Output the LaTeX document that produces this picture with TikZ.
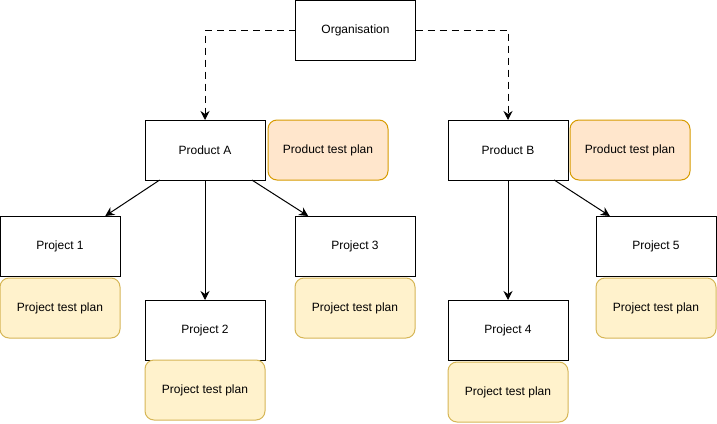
\documentclass[tikz,border=0pt]{standalone}
\usepackage{fontspec}
\setmainfont{Liberation Sans}
\usetikzlibrary{arrows.meta}
\definecolor{prodfill}{HTML}{FFE6CC}
\definecolor{proddraw}{HTML}{D79B00}
\definecolor{projfill}{HTML}{FFF2CC}
\definecolor{projdraw}{HTML}{D6B656}
\begin{document}
\begin{tikzpicture}[x=1pt, y=-1pt,
    font=\fontsize{12}{14}\selectfont,
    box/.style={shape=rectangle, draw=black, fill=white, line width=1pt, minimum width=120pt, minimum height=60pt, inner sep=0pt, outer sep=0pt},
    prodplan/.style={box, draw=proddraw, fill=prodfill, rounded corners=9pt},
    projplan/.style={box, draw=projdraw, fill=projfill, rounded corners=9pt},
    link/.style={line width=1pt, -{Stealth[length=9pt, width=9pt, inset=3pt]}},
    dashlink/.style={link, dash pattern=on 7pt off 5pt}]
  \useasboundingbox (0,0) rectangle (717,423);
     \path (355.5, 30) node [box] (org) {Organisation}
           (205, 150) node [box] (pa) {Product A}
           (328, 150) node [prodplan] (pa plan) {Product test plan}
           (508, 150) node [box] (pb) {Product B}
           (630, 150) node [prodplan] (pb plan) {Product test plan}
           ( 60, 246) node [box] (p1) {Project 1}
           ( 60, 308) node [projplan] (p1 plan) {Project test plan}
           (205, 330) node [box] (p2) {Project 2}
           (205, 390) node [projplan] (p2 plan) {Project test plan}
           (355, 246) node [box] (p3) {Project 3}
           (355, 308) node [projplan] (p3 plan) {Project test plan}
           (508, 330) node [box] (p4) {Project 4}
           (508, 392) node [projplan] (p4 plan) {Project test plan}
           (656, 246) node [box] (p5) {Project 5}
           (656, 308) node [projplan] (p5 plan) {Project test plan}
     ;
     \draw [dashlink] (org.west) -| (pa.north);
     \draw [dashlink] (org.east) -| (pb.north);
     \draw [link] (pa) -- (p1);
     \draw [link] (pa) -- (p2);
     \draw [link] (pa) -- (p3);
     \draw [link] (pb) -- (p4);
     \draw [link] (pb) -- (p5);
  \end{tikzpicture}
\end{document}
